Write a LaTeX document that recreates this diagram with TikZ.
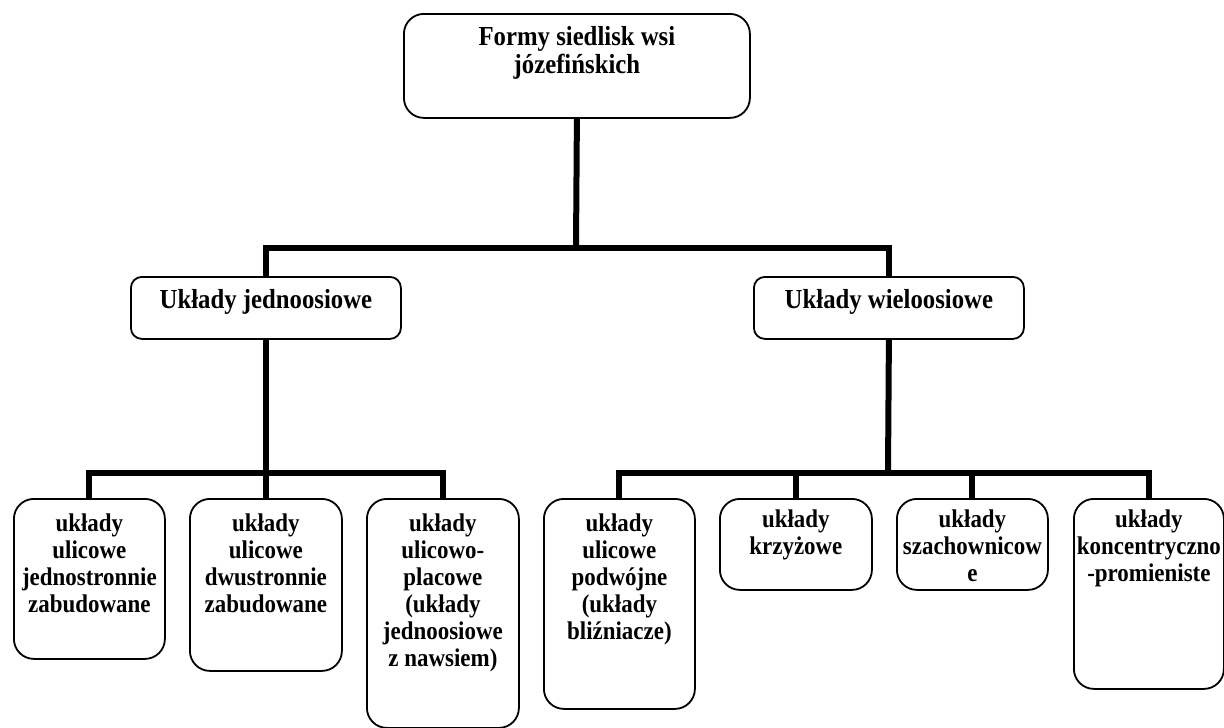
\documentclass[tikz,border=0pt]{standalone}
\usepackage{fontspec}
\setmainfont{Liberation Serif}[FakeStretch=0.9]
\begin{document}
\begin{tikzpicture}[x=1pt,y=-1pt,
  box/.style={draw=black,line width=1.8pt,anchor=north west,inner sep=0pt,fill=white},
  conn/.style={draw=black,line width=6pt,line join=miter,line cap=butt},
  txtB/.style={font=\fontsize{27.5}{28}\selectfont\bfseries,align=center,inner sep=0pt,anchor=north},
  txtS/.style={font=\fontsize{25.5}{27}\selectfont\bfseries,align=center,inner sep=0pt,anchor=north}]
\useasboundingbox[fill=white] (0,0) rectangle (1224,728);

\coordinate (j1) at (576,248);
\coordinate (j2) at (265,473);
\coordinate (j3) at (888,473);

% boxes
\node[box,rounded corners=20pt,minimum width=346pt,minimum height=104pt] (top) at (403,13) {};
\node[box,rounded corners=11pt,minimum width=270pt,minimum height=62pt] (ml) at (130,276) {};
\node[box,rounded corners=11pt,minimum width=270pt,minimum height=62pt] (mr) at (753,276) {};
\node[box,rounded corners=20pt,minimum width=151pt,minimum height=160pt] (b1) at (13,498) {};
\node[box,rounded corners=20pt,minimum width=152pt,minimum height=172pt] (b2) at (189,498) {};
\node[box,rounded corners=20pt,minimum width=152pt,minimum height=229pt] (b3) at (366,498) {};
\node[box,rounded corners=20pt,minimum width=151pt,minimum height=210pt] (b4) at (543,498) {};
\node[box,rounded corners=20pt,minimum width=152pt,minimum height=91pt] (b5) at (719,498) {};
\node[box,rounded corners=20pt,minimum width=151pt,minimum height=91pt] (b6) at (896,498) {};
\node[box,rounded corners=20pt,minimum width=150pt,minimum height=190pt] (b7) at (1073,498) {};

% connectors
\draw[conn] (top.south) -- (j1);
\draw[conn] (ml.north) |- (j1) -| (mr.north);
\draw[conn] (ml.south) -- (b2.north);
\draw[conn] (b1.north) |- (j2) -| (b3.north);
\draw[conn] (mr.south) -- (j3);
\draw[conn] (b4.north) |- (j3) -| (b7.north);
\draw[conn] (b5.north) -- (b5.north |- j3);
\draw[conn] (b6.north) -- (b6.north |- j3);

% texts
\node[txtB] (topt) at ([yshift=-12pt]top.north) {\rule{0pt}{20pt}Formy siedlisk wsi\\józefińskich};
\node[txtB] (mlt) at ([yshift=-12pt]ml.north) {\rule{0pt}{20pt}Układy jednoosiowe};
\node[txtB] (mrt) at ([yshift=-12pt]mr.north) {\rule{0pt}{20pt}Układy wieloosiowe};
\node[txtS] (b1t) at ([yshift=-13pt]b1.north) {\rule{0pt}{20pt}układy\\ulicowe\\jednostronnie\\zabudowane};
\node[txtS] (b2t) at ([yshift=-13pt]b2.north) {\rule{0pt}{20pt}układy\\ulicowe\\dwustronnie\\zabudowane};
\node[txtS] (b3t) at ([yshift=-13pt]b3.north) {\rule{0pt}{20pt}układy\\ulicowo-\\placowe\\(układy\\jednoosiowe\\z nawsiem)};
\node[txtS] (b4t) at ([yshift=-13pt]b4.north) {\rule{0pt}{20pt}układy\\ulicowe\\podwójne\\(układy\\bliźniacze)};
\node[txtS] (b5t) at ([yshift=-9pt]b5.north) {\rule{0pt}{20pt}układy\\krzyżowe};
\node[txtS] (b6t) at ([yshift=-9pt]b6.north) {\rule{0pt}{20pt}układy\\szachownicow\\e};
\node[txtS] (b7t) at ([yshift=-9pt]b7.north) {\rule{0pt}{20pt}układy\\koncentryczno\\-promieniste};
\end{tikzpicture}
\end{document}
